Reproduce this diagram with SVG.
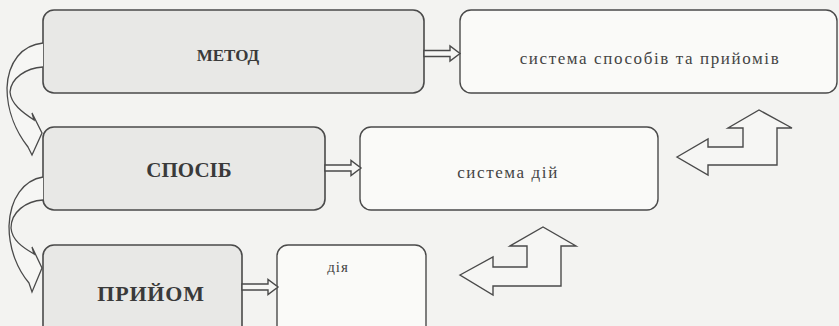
<svg xmlns="http://www.w3.org/2000/svg" width="839" height="326" viewBox="0 0 839 326">
<style>
.bg{fill:#f3f3f1}
.lbox{fill:#e8e8e6;stroke:#4a4a4a;stroke-width:1.6}
.rbox{fill:#fafaf8;stroke:#4a4a4a;stroke-width:1.4}
.bt{font-family:"Liberation Serif","DejaVu Serif",serif;font-weight:bold;fill:#3a3a3a;text-anchor:middle}
.rt{font-family:"Liberation Serif","DejaVu Serif",serif;fill:#444;text-anchor:middle}
.arr{fill:#f6f6f4;stroke:#4a4a4a;stroke-width:1.4;stroke-linejoin:miter}
.curv{fill:#f6f6f4;stroke:#4a4a4a;stroke-width:1.3}
</style>
<rect class="bg" x="0" y="0" width="839" height="326"/>
<g id="node-metod">
<rect class="lbox" x="43" y="10" width="381" height="83" rx="11"/>
<text class="bt" x="228" y="61" font-size="17">МЕТОД</text>
</g>
<g id="node-system-sposobiv">
<rect class="rbox" x="460" y="10" width="377" height="83" rx="11"/>
<text class="rt" x="650" y="64" font-size="17" letter-spacing="1.6">система способів та прийомів</text>
</g>
<g id="node-sposib">
<rect class="lbox" x="43" y="127" width="282" height="83" rx="11"/>
<text class="bt" x="189" y="177" font-size="21">СПОСІБ</text>
</g>
<g id="node-system-dii">
<rect class="rbox" x="360" y="127" width="298" height="83" rx="11"/>
<text class="rt" x="508" y="178" font-size="17" letter-spacing="1.6">система дій</text>
</g>
<g id="node-pryiom">
<rect class="lbox" x="43" y="245" width="199" height="100" rx="11"/>
<text class="bt" x="151" y="301" font-size="22" letter-spacing="0.8">ПРИЙОМ</text>
</g>
<g id="node-diia">
<rect class="rbox" x="277" y="245" width="149" height="100" rx="11"/>
<text class="rt" x="338" y="272" font-size="15" letter-spacing="1">дія</text>
</g>
<g id="connectors">
<path class="arr" d="M424,50.5 L450,50.5 L450,46 L460,53.5 L450,61 L450,56.5 L424,56.5 Z"/>
<path class="arr" d="M325,165 L351,165 L351,160.5 L361,168 L351,175.5 L351,171 L325,171 Z"/>
<path class="arr" d="M242,284 L268,284 L268,279.5 L278,287 L268,294.5 L268,290 L242,290 Z"/>
<path class="curv" d="M43,43 C22,45 8,62 7,88 C7,112 17,133 28,147 L32,155 L42,133 L32,113 L34,120 C22,112 11,104 10,92 C11,78 26,68 43,67"/>
<path class="curv" d="M43,177 C24,180 10,198 9,226 C9,250 18,270 29,283 L32,292 L42,268 L32,247 L34,254 C22,247 12,240 11,228 C11,212 26,201 43,200"/>
<polygon class="arr" points="677,157 708,139 708,147 743,147 743,128 728,128 759,110 792,128 777,128 777,165 708,165 708,175"/>
<polygon class="arr" points="460,275 493,257 493,267 527,267 527,246 510,246 543,227 576,246 561,246 561,286 493,286 493,295"/>
</g>
</svg>
